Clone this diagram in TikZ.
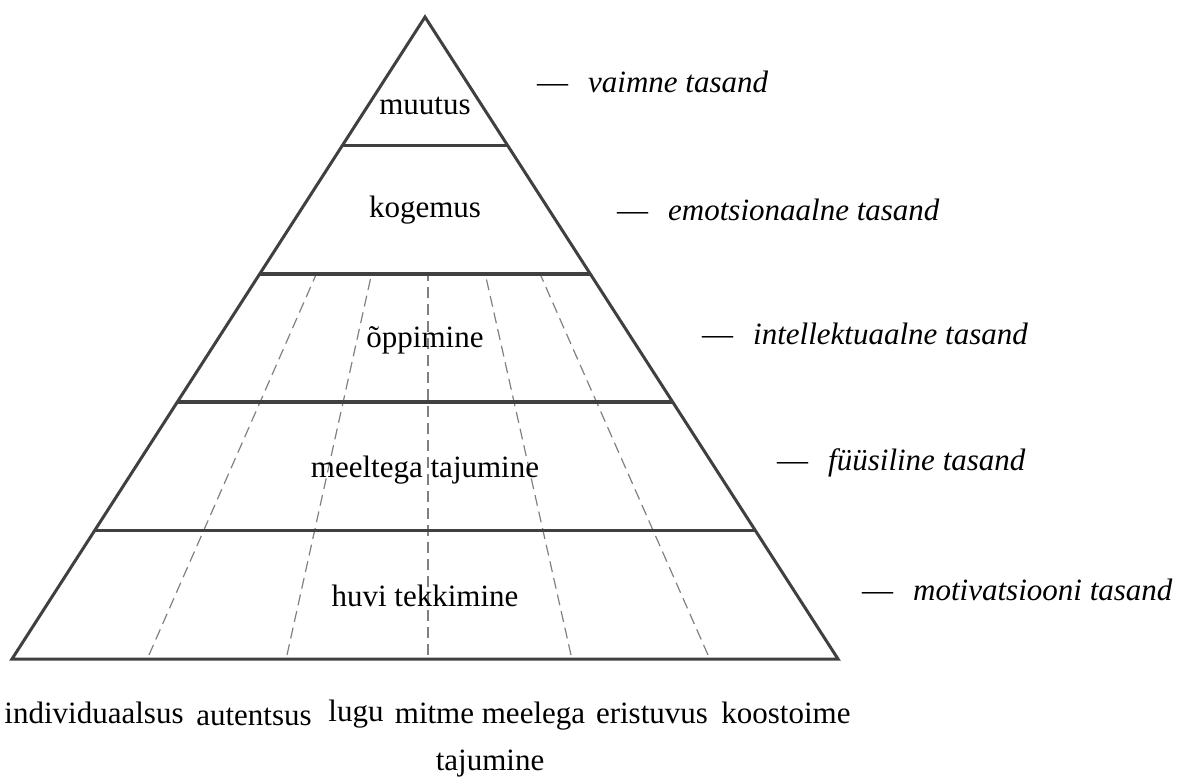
\documentclass[tikz,border=0pt]{standalone}
\usepackage{fontspec}
\setmainfont{LiberationSerif}[Extension=.ttf,UprightFont=*-Regular,ItalicFont=*-Italic,BoldFont=*-Bold,BoldItalicFont=*-BoldItalic]
\usetikzlibrary{calc}

\begin{document}
\begin{tikzpicture}[x=1pt,y=-1pt,
  side/.style={line width=3pt,draw=black!75},
  level/.style={line width=3.5pt,draw=black!75},
  guide/.style={line width=1.2pt,draw=black!50,dash pattern=on 11pt off 6pt},
  layer/.style={font=\fontsize{31}{36}\selectfont,inner sep=0pt},
  plane/.style={font=\fontsize{31}{36}\selectfont,anchor=west,inner sep=0pt},
  word/.style={font=\fontsize{31}{36}\selectfont,anchor=base,inner sep=0pt}]
\useasboundingbox (0,0) rectangle (1190,778);
\coordinate (apex) at (425,17);
\coordinate (bl) at (12,659);
\coordinate (br) at (838,659);
\coordinate (vp) at (428,17);
\foreach \x in {149,287,428,571,708}
  \draw[guide] (\x,655) -- ($(\x,659)!0.6!(vp)$);
\foreach \t in {0.2,0.4,0.6,0.8}
  \draw[level] ($(apex)!\t!(bl)$) -- ($(apex)!\t!(br)$);
\draw[side] (apex) -- (bl) -- (br) -- cycle;
\node[layer] (muutus) at (425,106) {muutus};
\node[layer] (kogemus) at (425,210) {kogemus};
\node[layer] (oppimine) at (425,340) {õppimine};
\node[layer] (meeltega) at (425,470) {meeltega tajumine};
\node[layer] (huvi) at (425,596) {huvi tekkimine};
\node[plane] (vaimne) at (537,82) {—\hspace{20pt}\textit{vaimne tasand}};
\node[plane] (emots) at (617,210) {—\hspace{20pt}\textit{emotsionaalne tasand}};
\node[plane] (intell) at (702,334) {—\hspace{20pt}\textit{intellektuaalne tasand}};
\node[plane] (fyys) at (777,463) {—\hspace{20pt}\textit{füüsiline tasand}};
\node[plane] (motiv) at (862,590) {—\hspace{20pt}\textit{motivatsiooni tasand}};
\node[word] (indiv) at (94,723) {individuaalsus};
\node[word] (autent) at (254,725) {autentsus};
\node[word] (lugu) at (356,721) {lugu};
\node[word] (mitme) at (490,723) {mitme meelega};
\node[word] (erist) at (652,723) {eristuvus};
\node[word] (koost) at (786,723) {koostoime};
\node[word] (tajum) at (490,770) {tajumine};
\end{tikzpicture}
\end{document}
